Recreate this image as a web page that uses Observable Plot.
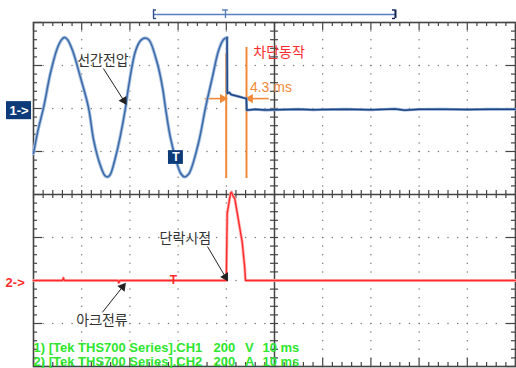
<!DOCTYPE html>
<html><head><meta charset="utf-8">
<script src="https://cdn.jsdelivr.net/npm/d3@7"></script>
<script src="https://cdn.jsdelivr.net/npm/@observablehq/plot@0.6"></script>
<style>
body{margin:0;background:#fff;}
#chart svg{display:block;}
</style>
</head><body><div id="chart"></div>
<script>
// ---------------- data ----------------
// CH1 line voltage (V) before the breaker opens
const ch1Time = [0, 1.0, 2.1, 3.5, 5.0, 5.9, 6.4, 7.0, 8.1, 9.75, 11.4, 12.5, 13.8, 14.8, 15.2, 15.8, 17.0, 18.0, 19.1, 19.7, 21.2, 22.3, 23.2, 24.0, 25.7, 26.8, 27.4, 28.4, 29.5, 30.5, 31.3, 32.2, 34.2, 35.7, 37.1, 38.4, 39.4, 39.9, 40.15];
const ch1Volt = [-209, -95, 5, 163, 284, 322, 330, 322, 270, 144, 5, -149, -260, -312, -318, -312, -228, -130, 5, 98, 270, 318, 328, 318, 209, 93, 0, -135, -233, -300, -318, -305, -163, 5, 144, 270, 320, 328, 330];
// CH1 after the break
const ch1AfterTime = [40.15, 40.2, 40.6, 41.0, 42.5, 43.5, 44.15, 44.25, 46, 48, 50, 55, 58, 60, 65, 70, 75, 77, 80, 85, 90, 95, 100];
const ch1AfterVolt = [330, 70, 75, 65, 56, 50, 47, -8, -4, -7, -6, -3, -6, -5, -3, -6, -2, -8, -4, -3, -5, -3, -4];
// CH2 arc current (A)
const ch2Time = [0, 6.0, 6.2, 6.4, 17.5, 17.7, 17.9, 29.0, 40.0, 40.19, 40.52, 40.87, 41.08, 41.35, 41.76, 42.59, 43.30, 43.84, 43.98, 50, 55, 60, 70, 80, 90, 100];
const ch2Amp  = [0, 0, 12, 0, 0, -10, 0, 0, 0, 312, 358, 405, 411, 395, 381, 271, 178, 56, 0, 0, 0, 0, 0, 0, 0, 0];

const ch1VoltsPerDiv = 200, ch2AmpsPerDiv = 200;
const ch1Offset = 2, ch2Offset = -2;       // trace baselines, in divisions
const legendCh1 = ["1) [Tek THS700 Series].CH1", "200", "V", "10 ms"];
const legendCh2 = ["2) [Tek THS700 Series].CH2", "200", "A", "10 ms"];
const labels = {lineVoltage: "선간전압", trip: "차단동작", shortPoint: "단락시점", arcCurrent: "아크전류", delta: "4.3 ms"};

// ---------------- build ----------------
const W = 516, H = 368, mL = 33, mR = 1, mT = 22, mB = 2;
const pxPerMs = (W - mL - mR) / 100, pxPerDiv = (H - mT - mB) / 8;
const ms = px => px / pxPerMs, dv = px => px / pxPerDiv;

const ch1 = ch1Time.map((t, i) => ({t, y: ch1Volt[i] / ch1VoltsPerDiv + ch1Offset}));
const ch1b = ch1AfterTime.map((t, i) => ({t, y: ch1AfterVolt[i] / ch1VoltsPerDiv + ch1Offset}));
const ch2 = ch2Time.map((t, i) => ({t, y: ch2Amp[i] / ch2AmpsPerDiv + ch2Offset}));

// graticule helpers
const xMinor = d3.range(51).map(i => ({x: i * 2, major: i % 5 === 0}));
const yMinor = d3.range(41).map(i => ({y: -4 + i * 0.2, major: i % 5 === 0}));
const gridDots = [];
[10, 20, 30, 40, 60, 70, 80, 90].forEach(x => d3.range(41).forEach(i => gridDots.push({x, y: -4 + i * 0.2})));
[-3, -2, -1, 1, 2, 3].forEach(y => d3.range(51).forEach(i => gridDots.push({x: i * 2, y})));

// arrows with filled heads
function arrow(x1, y1, x2, y2, color, sw = 1) {
  const dx = (x2 - x1) * pxPerMs, dy = -(y2 - y1) * pxPerDiv;
  const len = Math.hypot(dx, dy), ux = dx / len, uy = dy / len;
  const ang = Math.atan2(dx, -dy) * 180 / Math.PI;
  const back = 3.2;
  const cx = x2 - ms(ux * back), cy = y2 + dv(uy * back);
  const tx = x2 - ms(ux * 5), ty = y2 + dv(uy * 5);
  return [
    Plot.link([0], {x1: () => x1, y1: () => y1, x2: () => tx, y2: () => ty, stroke: color, strokeWidth: sw}),
    Plot.dot([0], {x: () => cx, y: () => cy, symbol: "triangle", r: 3.4, rotate: ang, fill: color, stroke: "none"})
  ];
}

const kr = "'Noto Sans CJK KR', 'Noto Sans', sans-serif";
const orange = "#f08a38", navy = "#0d3b7a", red = "#ff2b2b", green = "#2ee62e", gray = "#444";

const plot = Plot.plot({
  width: W, height: H, marginLeft: mL, marginRight: mR, marginTop: mT, marginBottom: mB,
  x: {domain: [0, 100], axis: null},
  y: {domain: [-4, 4], axis: null},
  style: {fontFamily: "'Liberation Sans', Arial, sans-serif", background: "#fff", overflow: "visible"},
  marks: [
    // dotted graticule
    Plot.dot(gridDots, {x: "x", y: "y", r: 0.75, fill: "#777", stroke: "none"}),
    // center cross
    Plot.ruleX([50], {stroke: gray, strokeWidth: 1.5}),
    Plot.ruleY([0], {stroke: gray, strokeWidth: 1.5}),
    Plot.ruleY(yMinor, {y: "y", x1: 50 - ms(4), x2: 50 + ms(4), stroke: gray, strokeWidth: 1.2}),
    Plot.ruleX(xMinor, {x: "x", y1: -dv(4), y2: dv(4), stroke: gray, strokeWidth: 1.2}),
    // border ticks
    Plot.ruleX(xMinor, {x: "x", y1: 4, y2: d => 4 - dv(d.major ? 8 : 4), stroke: gray, strokeWidth: 1.2}),
    Plot.ruleX(xMinor, {x: "x", y1: -4, y2: d => -4 + dv(d.major ? 8 : 4), stroke: gray, strokeWidth: 1.2}),
    Plot.ruleY(yMinor, {y: "y", x1: 0, x2: d => ms(d.major ? 9 : 4), stroke: gray, strokeWidth: 1.2}),
    Plot.ruleY(yMinor, {y: "y", x1: 100, x2: d => 100 - ms(d.major ? 9 : 4), stroke: gray, strokeWidth: 1.2}),
    Plot.frame({stroke: gray, strokeWidth: 1.6}),

    // record-length bar above the screen
    Plot.ruleY([0], {y: () => 4 + dv(8), x1: 24.9, x2: 75.1, stroke: "#5a7fbf", strokeWidth: 1.6}),
    Plot.ruleX([24.9], {y1: 4 + dv(4), y2: 4 + dv(12.5), stroke: "#2c4f8c", strokeWidth: 1.4}),
    Plot.ruleY([4 + dv(4), 4 + dv(12.5)], {x1: 24.9, x2: 24.9 + ms(3), stroke: "#2c4f8c", strokeWidth: 1.4}),
    Plot.ruleX([75.1], {y1: 4 + dv(4), y2: 4 + dv(12.5), stroke: "#0d2250", strokeWidth: 2}),
    Plot.ruleY([4 + dv(4), 4 + dv(12.5)], {x1: 75.1, x2: 75.1 - ms(3), stroke: "#0d2250", strokeWidth: 1.4}),
    Plot.ruleX([39.83], {y1: 4 + dv(4), y2: 4 + dv(12.5), stroke: "#5a7fbf", strokeWidth: 1.4}),
    Plot.ruleY([4 + dv(12.5)], {x1: 39.83 - ms(3), x2: 39.83 + ms(3), stroke: "#5a7fbf", strokeWidth: 1.4}),

    // orange timing markers
    Plot.ruleX([39.98], {y1: 3.28, y2: 0.37, stroke: orange, strokeWidth: 2}),
    Plot.ruleX([44.19], {y1: 3.42, y2: 0.37, stroke: orange, strokeWidth: 2}),
    ...arrow(35.5, 2.23, 39.9, 2.23, orange, 1.6),
    ...arrow(48.8, 2.23, 44.3, 2.23, orange, 1.6),
    Plot.text([labels.delta], {x: 44.9, y: 2.49, text: d => d, textAnchor: "start", fill: orange, fontSize: 14}),

    // traces (soft halo underneath, like the screenshot)
    Plot.line(ch2, {x: "t", y: "y", stroke: "#ffb0b0", strokeWidth: 3}),
    Plot.line(ch2, {x: "t", y: "y", stroke: red, strokeWidth: 1.4}),
    Plot.line(ch1, {x: "t", y: "y", stroke: "#a9c0e0", strokeWidth: 3.4, curve: "catmull-rom"}),
    Plot.line(ch1, {x: "t", y: "y", stroke: "#3a6aa8", strokeWidth: 1.5, curve: "catmull-rom"}),
    Plot.line(ch1b, {x: "t", y: "y", stroke: "#8aa6d0", strokeWidth: 2.8}),
    Plot.line(ch1b, {x: "t", y: "y", stroke: "#1d4684", strokeWidth: 1.5}),

    // trigger markers
    Plot.rect([0], {x1: 28.0, x2: 31.1, y1: 1.02, y2: 0.70, fill: navy}),
    Plot.text(["T"], {x: 29.55, y: 0.86, text: d => d, fill: "#fff", fontWeight: "bold", fontSize: 12}),
    Plot.text(["T"], {x: 29.05, y: -2.0, text: d => d, fill: red, fontWeight: "bold", fontSize: 12}),

    // channel markers
    Plot.rect([0], {x1: -5.6, x2: -0.4, y1: 2.16, y2: 1.74, fill: navy}),
    Plot.text(["1->"], {x: -3.0, y: 1.95, text: d => d, fill: "#fff", fontWeight: "bold", fontSize: 13}),
    Plot.text(["2->"], {x: -3.8, y: -2.05, text: d => d, fill: red, fontWeight: "bold", fontSize: 13}),

    // annotations
    Plot.text([labels.lineVoltage], {x: 14.4, y: 3.12, text: d => d, fill: "#333", fontSize: 14, fontFamily: kr}),
    ...arrow(14.5, 2.93, 19.1, 2.12, "#222", 1),
    Plot.text([labels.trip], {x: 45.6, y: 3.30, text: d => d, textAnchor: "start", fill: red, fontSize: 14, fontFamily: kr}),
    Plot.text([labels.shortPoint], {x: 31.5, y: -1.02, text: d => d, fill: "#333", fontSize: 14, fontFamily: kr}),
    ...arrow(36.1, -1.21, 40.15, -1.98, "#222", 1),
    Plot.text([labels.arcCurrent], {x: 14.2, y: -2.93, text: d => d, fill: "#333", fontSize: 14, fontFamily: kr}),
    ...arrow(14.3, -2.74, 18.9, -2.09, "#222", 1),

    // channel settings readout
    ...[legendCh1, legendCh2].flatMap((line, k) => {
      const y = k === 0 ? -3.56 : -3.88;
      const xs = [0, 37.34, 43.9, 47.5];
      return line.map((s, j) => Plot.text([s], {x: xs[j], y, text: d => d, textAnchor: "start", fill: green, fontWeight: "bold", fontSize: 13}));
    })
  ]
});
document.getElementById("chart").append(plot);
</script>
</body></html>
